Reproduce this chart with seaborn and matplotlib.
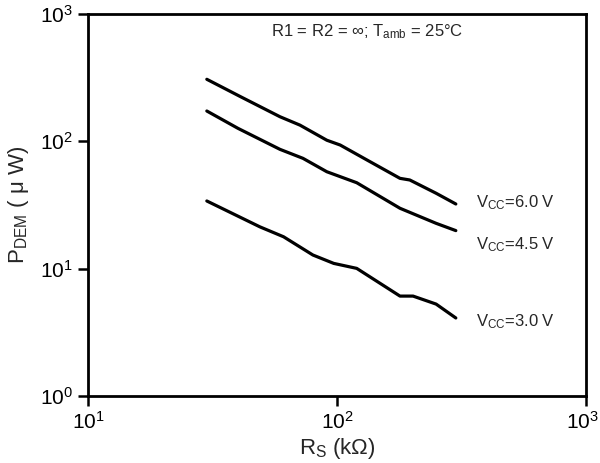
import pandas as pd
import numpy as np
import matplotlib
matplotlib.use('Agg')
import matplotlib.pyplot as plt
import matplotlib.transforms as mtransforms
import seaborn as sns
from matplotlib import font_manager
from matplotlib.ticker import NullLocator

# Data (R_S in kOhm, P_DEM in uW)
rs_60 = [30, 41, 59, 71, 91, 103, 132, 179, 196, 250, 300]
p_60 = [307, 224, 156, 134, 102, 93.5, 71.3, 51.2, 49.7, 39.1, 32.2]

rs_45 = [30, 40, 59, 73, 91, 120, 179, 250, 300]
p_45 = [173, 126.5, 86.5, 73.5, 57.7, 47.3, 29.8, 22.7, 19.9]

rs_30 = [30, 49, 61, 80, 97, 120, 179, 202, 250, 300]
p_30 = [34, 21.3, 17.8, 12.8, 11.0, 10.05, 6.09, 6.09, 5.27, 4.1]

series = ['6.0', '4.5', '3.0']
decades = [1, 10, 100, 1000]
xdecades = [10, 100, 1000]

df = pd.concat([
    pd.DataFrame({'rs': rs_60, 'p': p_60, 'vcc': '6.0'}),
    pd.DataFrame({'rs': rs_45, 'p': p_45, 'vcc': '4.5'}),
    pd.DataFrame({'rs': rs_30, 'p': p_30, 'vcc': '3.0'}),
])

names = {f.name for f in font_manager.fontManager.ttflist}
fam = 'Liberation Sans Narrow' if 'Liberation Sans Narrow' in names else 'Liberation Sans'

sns.set_style('ticks')
plt.rcParams['font.family'] = [fam, 'DejaVu Sans']
plt.rcParams['mathtext.fontset'] = 'custom'
plt.rcParams['mathtext.rm'] = fam
plt.rcParams['mathtext.it'] = fam

fig = plt.figure(figsize=(6, 4.63), dpi=100)
ax = fig.add_axes([0.1467, 0.1447, 0.83, 0.8251])

sns.lineplot(data=df, x='rs', y='p', hue='vcc', hue_order=series,
             palette=['black'] * 3, linewidth=2.3, legend=False,
             sort=False, ax=ax)

ax.set_xscale('log')
ax.set_yscale('log')
ax.set_xlim(10, 1000)
ax.set_ylim(1, 1000)
ax.set_xticks(xdecades)
ax.set_yticks(decades)
ax.xaxis.set_minor_locator(NullLocator())
ax.yaxis.set_minor_locator(NullLocator())
ax.set_xticklabels([r'10$^{%d}$' % int(np.log10(v)) for v in xdecades])
ax.set_yticklabels([r'10$^{%d}$' % int(np.log10(v)) for v in decades])
ax.tick_params(axis='both', direction='out', length=7, width=1.8,
               labelsize=15, colors='black', pad=4)

# keep the last x tick label inside the figure
last = ax.get_xticklabels()[-1]
last.set_transform(last.get_transform() +
                   mtransforms.ScaledTranslation(-4 / 100, 0, fig.dpi_scale_trans))

for s in ax.spines.values():
    s.set_linewidth(2)
    s.set_color('black')

ax.set_xlabel(r'R$_{\rm S}$ (k$\Omega$)', fontsize=16, labelpad=2)
ax.set_ylabel(r'P$_{\rm DEM}$ ( $\mu$ W)', fontsize=16, labelpad=6)

ax.text(0.56, 0.955, r'R1 = R2 = $\infty$; T$_{\rm amb}$ = 25°C',
        transform=ax.transAxes, ha='center', va='center', fontsize=12)
labels_y = [0.505, 0.395, 0.195]
for v, yy in zip(series, labels_y):
    ax.text(0.78, yy, r'V$_{\rm CC}$=%s V' % v, transform=ax.transAxes,
            ha='left', va='center', fontsize=12)

fig.savefig('out.png', dpi=100)
